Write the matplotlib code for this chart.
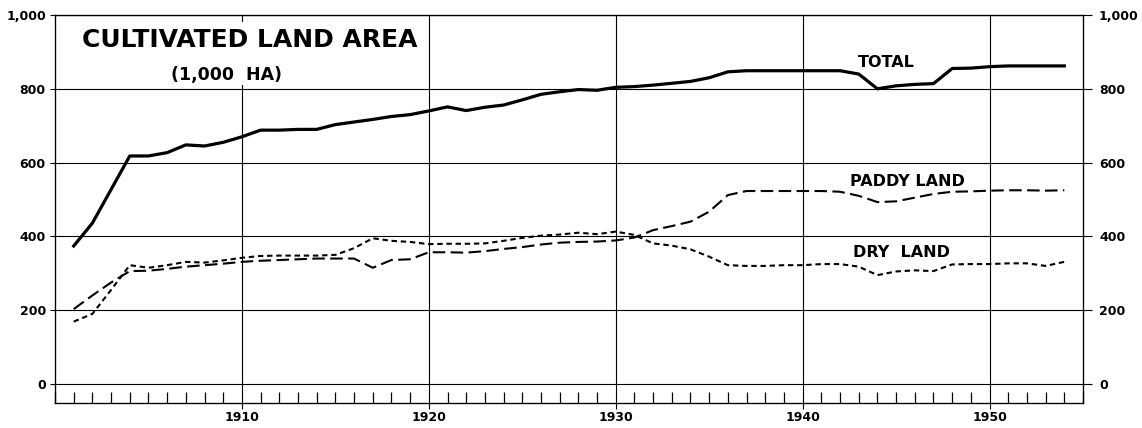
import matplotlib
matplotlib.use("Agg")
import matplotlib.pyplot as plt
from matplotlib.patches import Rectangle
from matplotlib.ticker import MultipleLocator, FuncFormatter

years = list(range(1901, 1955))

# 1,000 ha
total = [374, 436, 527, 618, 618, 627, 648, 645, 655, 670,
         688, 688, 690, 690, 703, 710, 717, 725, 730, 740,
         751, 741, 750, 756, 770, 785, 792, 798, 796, 804,
         806, 810, 815, 820, 830, 846, 849, 849, 849, 849,
         849, 849, 840, 800, 808, 812, 814, 855, 856, 860,
         862, 862, 862, 862]
paddy = [203, 240, 275, 306, 307, 312, 318, 322, 326, 331,
         334, 336, 338, 340, 340, 340, 315, 336, 338, 357,
         357, 356, 360, 366, 371, 378, 383, 385, 386, 389,
         397, 417, 428, 440, 467, 512, 523, 523, 523, 523,
         523, 521, 510, 493, 495, 505, 515, 521, 522, 524,
         525, 525, 524, 525]
dry = [169, 190, 255, 322, 315, 322, 331, 329, 335, 342,
       347, 348, 348, 348, 350, 368, 395, 388, 385, 379,
       380, 380, 381, 388, 396, 402, 405, 410, 406, 413,
       404, 381, 375, 365, 345, 322, 320, 320, 322, 322,
       325, 325, 318, 295, 305, 308, 306, 324, 325, 325,
       327, 327, 320, 331]

yticks = [0, 200, 400, 600, 800, 1000]
decades = [1910, 1920, 1930, 1940, 1950]

plt.rcParams['font.family'] = ['DejaVu Sans']

fig = plt.figure(figsize=(11.42, 4.28), dpi=100)
ax = fig.add_axes([55 / 1142, 1 - 403 / 428, (1083 - 55) / 1142, (403 - 15) / 428])
ax.set_xlim(1900, 1955)
ax.set_ylim(-51.5, 1000)

fmt = FuncFormatter(lambda v, p: f"{int(v):,}")

ax.set_yticks(yticks)
ax.yaxis.set_major_formatter(fmt)
ax.set_xticks(decades)
ax.xaxis.set_minor_locator(MultipleLocator(1))
ax.tick_params(axis='y', direction='out', length=3.6, width=0.8, pad=3,
               labelsize=9)
ax.tick_params(axis='x', which='major', direction='out', length=4, width=0.8,
               pad=2, labelsize=9)
ax.tick_params(axis='x', which='minor', direction='in', length=8, width=0.9)
for lab in ax.get_xticklabels() + ax.get_yticklabels():
    lab.set_fontweight('bold')

ax.set_axisbelow(True)
ax.grid(True, which='major', color='black', lw=0.8)
for sp in ax.spines.values():
    sp.set_linewidth(0.9)

ax2 = ax.twinx()
ax2.set_ylim(ax.get_ylim())
ax2.set_yticks(yticks)
ax2.yaxis.set_major_formatter(fmt)
ax2.tick_params(axis='y', direction='out', length=6.5, width=0.8, pad=5,
                labelsize=9)
for lab in ax2.get_yticklabels():
    lab.set_fontweight('bold')

# title panel blanks out the grid in the upper left
ax.add_patch(Rectangle((1900.3, 810), 19.5, 170, facecolor='white',
                       edgecolor='none', zorder=1))
ax.text(1910.4, 932, "CULTIVATED LAND AREA", ha='center', va='center',
        fontsize=18, fontweight='bold', zorder=5)
ax.text(1909.2, 837, "(1,000  HA)", ha='center', va='center',
        fontsize=12.5, fontweight='bold', zorder=5)

ax.plot(years, total, color='black', lw=2.3, solid_joinstyle='round', zorder=3)
ax.plot(years, paddy, color='black', lw=1.5, dashes=(6, 2.6), zorder=3)
ax.plot(years, dry, color='black', lw=1.5, dashes=(2.6, 1.8), zorder=3)

ax.text(1944.5, 870, "TOTAL", ha='center', va='center', fontsize=11.5,
        fontweight='bold', zorder=5)
ax.text(1945.6, 548, "PADDY LAND", ha='center', va='center', fontsize=11.5,
        fontweight='bold', zorder=5)
ax.text(1945.3, 356, "DRY  LAND", ha='center', va='center', fontsize=11.5,
        fontweight='bold', zorder=5)

fig.savefig("out.png", dpi=100, facecolor='white')
